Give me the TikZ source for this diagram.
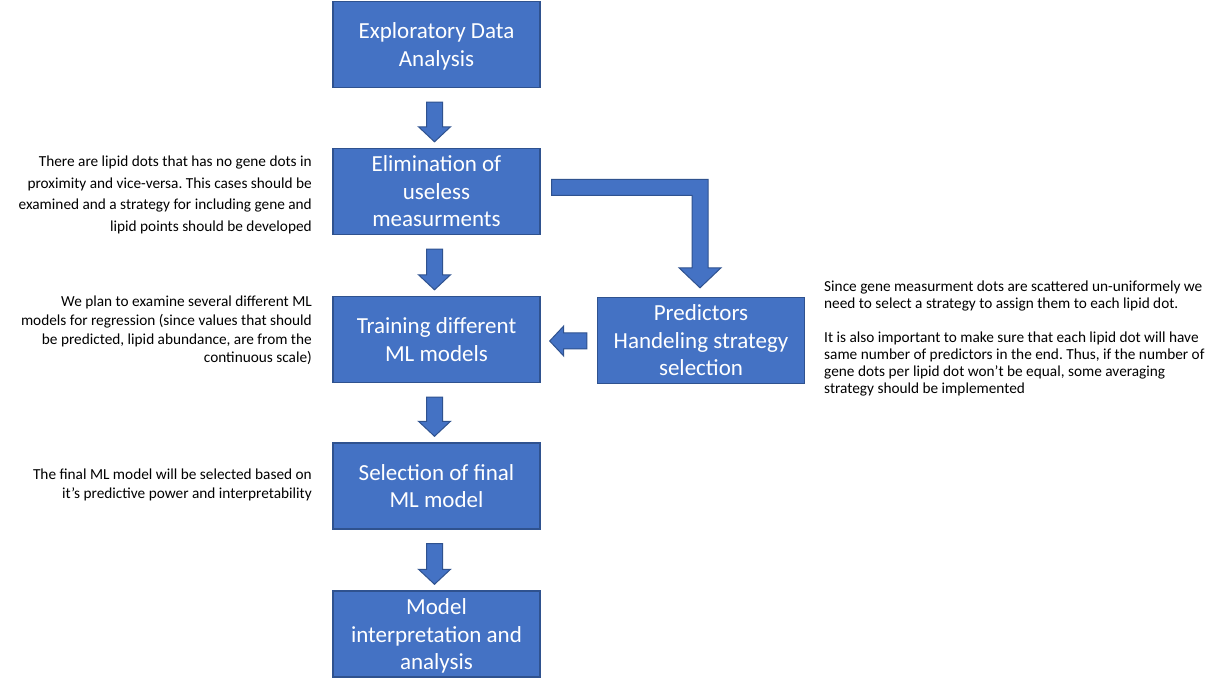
\documentclass[tikz,border=0pt]{standalone}
\usepackage{fontspec}
\setmainfont{Carlito}
\usetikzlibrary{calc}
\definecolor{boxblue}{HTML}{4472C4}
\definecolor{boxedge}{HTML}{2F528F}
\frenchspacing
\newcommand\flowdown[2]{%
  \draw[barrow] let \p1=(#1.south), \p2=(#2.north) in
    ({\x1-10pt},{\y1-14pt}) -- ({\x1+6pt},{\y1-14pt}) -- ({\x1+6pt},{\y2+21pt})
    -- ({\x1+14pt},{\y2+21pt}) -- ({\x1-2pt},{\y2+6pt}) -- ({\x1-18pt},{\y2+21pt})
    -- ({\x1-10pt},{\y2+21pt}) -- cycle;}
\newcommand\stagetext[1]{\raisebox{-2.5pt}[\height][\depth]{\begin{tabular}{@{}c@{}}#1\end{tabular}}}
\begin{document}
\begin{tikzpicture}[x=1pt,y=-1pt,
  stage/.style={draw=boxedge, line width=1.4pt, fill=boxblue, text=white,
    minimum width=207pt, minimum height=86pt, align=center, inner sep=0pt,
    font=\fontsize{23}{27.5}\selectfont},
  barrow/.style={draw=boxedge, line width=1pt, fill=boxblue, line join=miter},
  note/.style={inner sep=0pt, text=black}]
\useasboundingbox[fill=white] (0,0) rectangle (1224,692);

\node[stage] (eda) at (436.5,44.5) {\stagetext{Exploratory Data\\Analysis}};
\node[stage] (elim) at (436.5,191.5) {\stagetext{Elimination of\\useless\\measurments}};
\node[stage] (train) at (436.5,339.5) {\stagetext{Training different\\ML models}};
\node[stage] (sel) at (436.5,486) {\stagetext{Selection of final\\ML model}};
\node[stage] (interp) at (436.5,634) {\stagetext{Model\\interpretation and\\analysis}};
\node[stage] (pred) at (701,340.5) {\stagetext{Predictors\\Handeling strategy\\selection}};

\flowdown{eda}{elim}
\flowdown{elim}{train}
\flowdown{train}{sel}
\flowdown{sel}{interp}

% elbow arrow from elimination to predictors
\draw[barrow] let \p1=(elim.east), \p2=(pred.north) in
  ({\x1+11pt},{\y1+12pt}) -- ({\x2+7pt},{\y1+12pt}) -- ({\x2+7pt},{\y2+29pt})
  -- ({\x2+20pt},{\y2+29pt}) -- ({\x2-1pt},{\y2+9pt}) -- ({\x2-22pt},{\y2+29pt})
  -- ({\x2-9pt},{\y2+29pt}) -- ({\x2-9pt},{\y1-4pt}) -- ({\x1+11pt},{\y1-4pt}) -- cycle;

% left arrow from predictors to training
\draw[barrow] let \p1=(pred.west), \p2=(train.east) in
  ({\x1-10pt},{\y1+7.5pt}) -- ({\x2+23pt},{\y1+7.5pt}) -- ({\x2+23pt},{\y1+14.5pt})
  -- ({\x2+9pt},{\y1-0.5pt}) -- ({\x2+23pt},{\y1-15.5pt}) -- ({\x2+23pt},{\y1-8.5pt})
  -- ({\x1-10pt},{\y1-8.5pt}) -- cycle;

\node[note, anchor=east, align=right, font=\fontsize{15.3}{21.5}\selectfont] (n1) at (312,195)
  {There are lipid dots that has no gene dots in\\proximity and vice-versa. This cases should be\\examined and a strategy for including gene and\\lipid points should be developed};
\node[note, anchor=east, align=right, font=\fontsize{15.3}{18.7}\selectfont] (n2) at (312,330.5)
  {We plan to examine several different ML\\models for regression (since values that should\\be predicted, lipid abundance, are from the\\continuous scale)};
\node[note, anchor=east, align=right, font=\fontsize{15.3}{19}\selectfont] (n3) at (312,484.5)
  {The final ML model will be selected based on\\it’s predictive power and interpretability};
\node[note, anchor=west, align=left, font=\fontsize{15.3}{17}\selectfont] (n4) at (824,339)
  {Since gene measurment dots are scattered un-uniformely we\\need to select a strategy to assign them to each lipid dot.\\[17pt]It is also important to make sure that each lipid dot will have\\same number of predictors in the end. Thus, if the number of\\gene dots per lipid dot won’t be equal, some averaging\\strategy should be implemented};
\end{tikzpicture}
\end{document}
